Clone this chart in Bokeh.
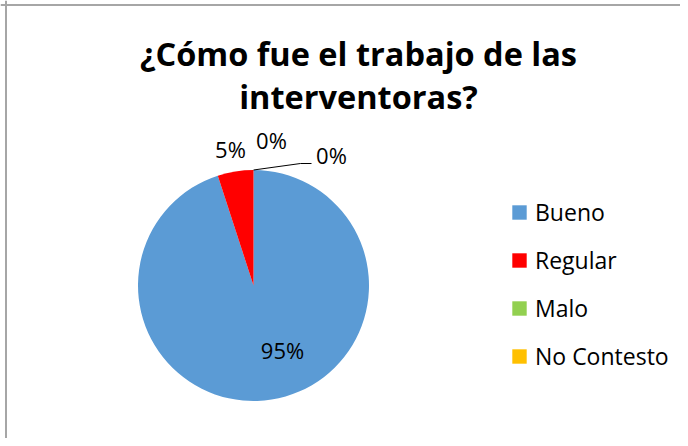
import numpy as np
from bokeh.plotting import figure
from bokeh.models import ColumnDataSource, Range1d, Legend, LegendItem, Span, CDSView, BooleanFilter
from bokeh.core.properties import value
from bokeh.embed import file_html
from bokeh.resources import INLINE

# ---- data ----
categories = ["Bueno", "Regular", "Malo", "No Contesto"]
percent = [95, 5, 0, 0]
pct_labels = ["95%", "5%", "0%", "0%"]
colors = ["#5B9BD5", "#FF0000", "#92D050", "#FFC000"]
title_lines = ["¿Cómo fue el trabajo de las", "interventoras?"]

# ---- layout (pixels) ----
W, H = 680, 438
CX, CY, R = 253, H - 285, 115.5
# label centre offsets from pie centre (dx right, dy up)
LABEL_DX = [29, -23, 18, 78]
LABEL_DY = [-64, 137, 146, 131]
FONT = "Open Sans"

p = figure(width=W, height=H, x_range=Range1d(0, W), y_range=Range1d(0, H),
           output_backend="svg", toolbar_location=None, min_border=0)
p.axis.visible = False
p.grid.visible = False
p.outline_line_color = None
p.background_fill_color = "white"
p.border_fill_color = "white"

frac = np.array(percent, dtype=float) / sum(percent)
cum = np.concatenate([[0.0], np.cumsum(frac)])
start = np.pi / 2 - 2 * np.pi * cum[:-1]
end = np.pi / 2 - 2 * np.pi * cum[1:]

src = ColumnDataSource(dict(cat=categories, start=start, end=end, color=colors,
                            x=[CX] * 4, y=[CY] * 4))
nonzero = BooleanFilter([v > 0 for v in percent])
p.wedge(x="x", y="y", radius=R, start_angle="start", end_angle="end",
        direction="clock", fill_color="color", line_color=None, source=src,
        view=CDSView(filter=nonzero))
# zero-radius renderer used only for legend swatches
lr = p.wedge(x="x", y="y", radius=0, start_angle="start", end_angle="end",
             direction="clock", fill_color="color", line_color=None, source=src)

# data labels
lx = [CX + d for d in LABEL_DX]
ly = [CY + d for d in LABEL_DY]
p.text(x=lx, y=ly, text=pct_labels, text_font=value(FONT), text_font_size="22px",
       text_color="black", text_align="center", text_baseline="middle")

# leader line for last slice
mid = (start[3] + end[3]) / 2
ax, ay = CX + R * np.cos(mid), CY + R * np.sin(mid)
p.line(x=[ax, lx[3] - 31, lx[3] - 20], y=[ay, ly[3] - 9, ly[3] - 9],
       line_color="black", line_width=1)

# title
p.text(x=[358, 358], y=[H - 53, H - 96], text=title_lines, text_font=value(FONT),
       text_font_size="32.5px", text_font_style="bold", text_color="black",
       text_align="center", text_baseline="alphabetic")

# chart area border (left & top visible)
p.add_layout(Span(location=5.5, dimension="height", line_color="#A6A6A6", line_width=2))
p.add_layout(Span(location=H - 4.5, dimension="width", line_color="#A6A6A6", line_width=2))

items = [LegendItem(label=c, renderers=[lr], index=i) for i, c in enumerate(categories)]
legend = Legend(items=items, location=(510, 66), orientation="vertical",
                glyph_width=18, glyph_height=18, label_standoff=7, spacing=16,
                padding=0, margin=0, border_line_color=None, background_fill_alpha=0,
                label_text_font=FONT, label_text_font_size="23px",
                label_text_color="black", label_height=18)
p.add_layout(legend)

open("out.html", "w").write(file_html(p, INLINE))
